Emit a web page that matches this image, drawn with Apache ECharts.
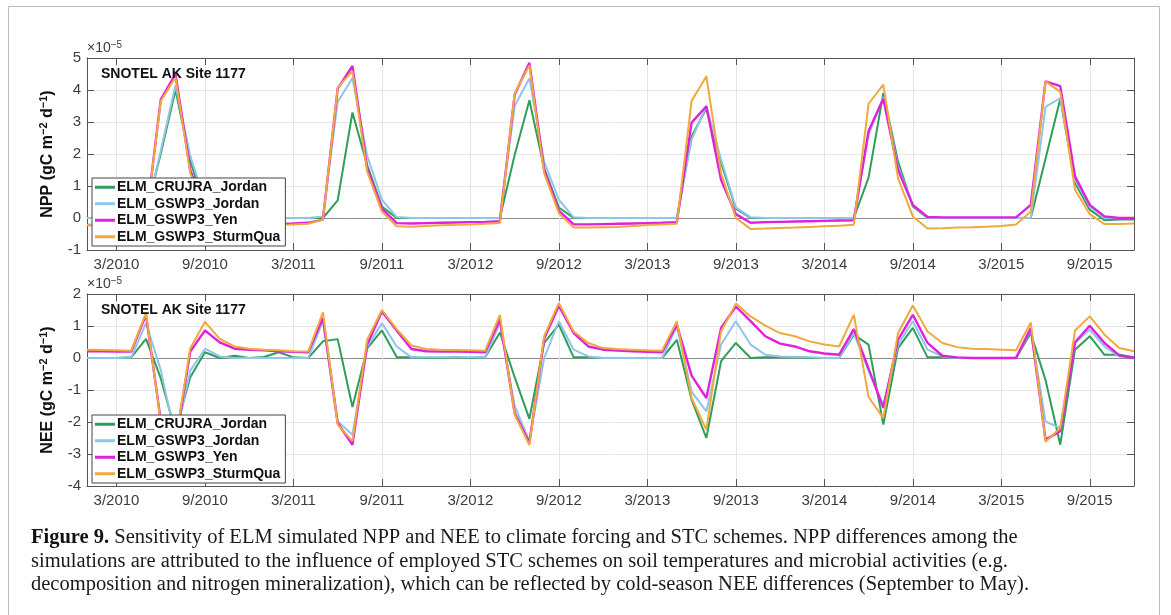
<!DOCTYPE html>
<html>
<head>
<meta charset="utf-8">
<script src="https://cdn.jsdelivr.net/npm/echarts@6/dist/echarts.min.js"></script>
<style>
  html, body { margin: 0; padding: 0; background: #fff; }
  #chart { width: 1171px; height: 615px; }
</style>
</head>
<body>
<div id="chart"></div>
<script>
// monthly categories Jan 2010 .. Dec 2015
const years = [2010, 2011, 2012, 2013, 2014, 2015];
const categories = [];
years.forEach(y => { for (let m = 1; m <= 12; m++) categories.push(m + '/' + y); });

const tickLabels = ['3/2010', '9/2010', '3/2011', '9/2011', '3/2012', '9/2012',
  '3/2013', '9/2013', '3/2014', '9/2014', '3/2015', '9/2015'];

const seriesNames = ['ELM_CRUJRA_Jordan', 'ELM_GSWP3_Jordan', 'ELM_GSWP3_Yen', 'ELM_GSWP3_SturmQua'];
const colors = ['#2f9e5a', '#8fc5e8', '#e020dc', '#f0a93e'];

// NPP, x1e-5 gC m-2 d-1
const nppCrujraJordan = [
  0, 0, 0, 0, 0.2, 2.0, 4.0, 1.8, 0.3, 0, 0, 0,
  0, 0, 0, 0, 0, 0.55, 3.3, 1.65, 0.36, 0, 0, 0,
  0, 0, 0, 0, 0, 1.97, 3.68, 1.55, 0.33, 0, 0, 0,
  0, 0, 0, 0, 0, 2.55, 3.42, 1.72, 0.29, 0, 0, 0,
  0, 0, 0, 0, 0, 1.26, 3.9, 1.76, 0.36, 0, 0, 0,
  0, 0, 0, 0, 0, 1.85, 3.73, 1.09, 0.26, -0.07, -0.05, -0.05
];
const nppGswp3Jordan = [
  0, 0, 0, 0, 0.1, 2.1, 4.15, 1.95, 0.5, 0.05, 0, 0,
  0, 0, 0, 0, 0.05, 3.63, 4.37, 1.95, 0.57, 0.03, 0, 0,
  0, 0, 0, 0, 0, 3.5, 4.37, 1.76, 0.57, 0.02, 0, 0,
  0, 0, 0, 0, 0, 2.45, 3.5, 1.83, 0.33, 0.02, 0, 0,
  0, 0, 0, 0, 0, 2.6, 3.78, 1.6, 0.4, 0, 0, 0,
  0, 0, 0, 0, 0, 3.47, 3.75, 1.2, 0.36, 0, 0, 0
];
const nppGswp3Yen = [
  -0.22, -0.22, -0.21, -0.2, -0.1, 3.7, 4.5, 1.5, 0.25, -0.2, -0.2, -0.19,
  -0.19, -0.18, -0.17, -0.15, -0.05, 4.04, 4.75, 1.55, 0.29, -0.16, -0.17, -0.16,
  -0.15, -0.14, -0.13, -0.12, -0.1, 3.85, 4.85, 1.5, 0.23, -0.2, -0.2, -0.19,
  -0.18, -0.17, -0.16, -0.15, -0.13, 2.98, 3.49, 1.19, 0.12, -0.15, -0.13, -0.12,
  -0.11, -0.1, -0.09, -0.08, -0.07, 2.72, 3.73, 1.5, 0.41, 0.03, 0.02, 0.02,
  0.02, 0.02, 0.02, 0.02, 0.41, 4.27, 4.12, 1.3, 0.41, 0.05, 0, 0
];
const nppGswp3SturmQua = [
  -0.22, -0.22, -0.22, -0.21, -0.1, 3.65, 4.4, 1.4, 0.15, -0.25, -0.25, -0.24,
  -0.22, -0.21, -0.2, -0.18, -0.05, 4.07, 4.6, 1.45, 0.2, -0.26, -0.27, -0.25,
  -0.23, -0.21, -0.2, -0.18, -0.16, 3.89, 4.77, 1.4, 0.15, -0.3, -0.3, -0.29,
  -0.28, -0.25, -0.22, -0.2, -0.18, 3.66, 4.43, 1.4, 0.0, -0.34, -0.33, -0.31,
  -0.3, -0.28, -0.26, -0.24, -0.21, 3.57, 4.17, 1.24, 0.05, -0.33, -0.32, -0.3,
  -0.29, -0.27, -0.25, -0.2, 0.2, 4.27, 3.94, 0.88, 0.12, -0.19, -0.19, -0.17
];

// NEE, x1e-5 gC m-2 d-1
const neeCrujraJordan = [
  0, 0, 0, 0.02, 0.6, -0.63, -2.3, -0.6, 0.18, 0, 0.07, 0,
  0.03, 0.18, 0.02, 0, 0.52, 0.59, -1.53, 0.3, 0.86, 0.03, 0.02, 0,
  0, 0.02, 0, 0.02, 0.8, -0.6, -1.9, 0.47, 1.04, 0.02, 0.02, 0,
  0, 0, 0, 0, 0.57, -1.3, -2.5, -0.1, 0.47, 0, 0.02, 0.02,
  0.03, 0, 0, 0, 0.73, 0.42, -2.08, 0.31, 0.94, 0.02, 0.02, 0,
  0, 0, 0, 0, 0.78, -0.69, -2.71, 0.26, 0.68, 0.1, 0.1, 0.02
];
const neeGswp3Jordan = [
  0, 0, 0, 0.02, 1.09, -0.37, -2.5, -0.4, 0.29, 0.05, 0, 0,
  0, 0, 0, 0, 1.15, -1.98, -2.4, 0.35, 1.09, 0.36, 0.02, 0.02,
  0.02, 0.02, 0.02, 0.02, 1.1, -1.5, -2.6, 0.0, 1.15, 0.26, 0.05, 0,
  0, 0, 0, 0, 0.99, -1.05, -1.67, 0.42, 1.15, 0.42, 0.1, 0.05,
  0.03, 0.02, 0, 0, 0.78, -0.4, -1.46, 0.42, 1.15, 0.26, 0.05, 0,
  0, 0, 0, 0, 0.89, -1.99, -2.19, 0.47, 0.89, 0.36, 0.05, 0
];
const neeGswp3Yen = [
  0.21, 0.21, 0.2, 0.2, 1.35, -1.95, -2.7, 0.2, 0.86, 0.49, 0.29, 0.26,
  0.24, 0.21, 0.19, 0.18, 1.25, -2.03, -2.71, 0.42, 1.45, 0.86, 0.28, 0.21,
  0.2, 0.2, 0.19, 0.18, 1.2, -1.72, -2.65, 0.6, 1.63, 0.78, 0.36, 0.26,
  0.23, 0.21, 0.19, 0.18, 1.04, -0.55, -1.25, 0.94, 1.61, 1.15, 0.68, 0.45,
  0.36, 0.21, 0.14, 0.1, 0.9, -0.33, -1.56, 0.57, 1.35, 0.47, 0.07, 0.02,
  0, 0, 0, 0, 0.94, -2.55, -2.29, 0.49, 1.01, 0.47, 0.08, 0
];
const neeGswp3SturmQua = [
  0.26, 0.25, 0.24, 0.23, 1.4, -2.0, -2.6, 0.3, 1.13, 0.6, 0.36, 0.29,
  0.26, 0.24, 0.21, 0.2, 1.43, -2.08, -2.6, 0.57, 1.5, 0.9, 0.39, 0.28,
  0.26, 0.25, 0.24, 0.23, 1.35, -1.77, -2.72, 0.68, 1.72, 0.83, 0.47, 0.31,
  0.28, 0.26, 0.24, 0.23, 1.15, -1.25, -2.24, 0.83, 1.7, 1.3, 1.01, 0.78,
  0.68, 0.52, 0.42, 0.36, 1.35, -1.22, -1.88, 0.78, 1.64, 0.83, 0.47, 0.34,
  0.29, 0.28, 0.26, 0.24, 1.11, -2.62, -2.19, 0.86, 1.3, 0.73, 0.31, 0.21
];

const nppData = [nppCrujraJordan, nppGswp3Jordan, nppGswp3Yen, nppGswp3SturmQua];
const neeData = [neeCrujraJordan, neeGswp3Jordan, neeGswp3Yen, neeGswp3SturmQua];

const FONT = '"Liberation Sans", Arial, sans-serif';
const axisColor = '#555';
const gridColor = '#e6e6e6';
const zeroColor = '#8c8c8c';

const isTick = (idx) => tickLabels.indexOf(categories[idx]) !== -1;

function xAxisFor(gridIndex, pos) {
  const bottom = pos === 'bottom';
  return {
    type: 'category',
    gridIndex: gridIndex,
    position: pos,
    data: categories,
    boundaryGap: false,
    axisLine: { onZero: false, lineStyle: { color: axisColor, width: 1 } },
    axisTick: { show: true, inside: true, length: 7, interval: isTick, lineStyle: { color: axisColor } },
    axisLabel: bottom ? {
      show: true, interval: isTick, color: '#3c3c3c', fontSize: 15, fontFamily: FONT, margin: 7
    } : { show: false },
    splitLine: { show: bottom, interval: isTick, lineStyle: { color: gridColor, width: 1 } }
  };
}

function yAxisFor(gridIndex, pos, min, max, name) {
  const left = pos === 'left';
  const lineColors = [];
  for (let v = min; v <= max; v++) lineColors.push(v === 0 ? zeroColor : gridColor);
  return {
    type: 'value',
    gridIndex: gridIndex,
    position: pos,
    min: min,
    max: max,
    interval: 1,
    name: left ? name : '',
    nameLocation: 'middle',
    nameGap: 29,
    nameRotate: 90,
    nameTextStyle: {
      color: '#111', fontSize: 16, fontWeight: 'bold', fontFamily: FONT,
      rich: { s: { fontSize: 11, fontWeight: 'bold', fontFamily: FONT, color: '#111', verticalAlign: 'top', lineHeight: 20 } }
    },
    axisLine: { show: true, lineStyle: { color: axisColor, width: 1 } },
    axisTick: { show: true, inside: true, length: 7, lineStyle: { color: axisColor } },
    axisLabel: left ? { show: true, color: '#3c3c3c', fontSize: 15, fontFamily: FONT, margin: 6 } : { show: false },
    splitLine: { show: left, lineStyle: { color: lineColors, width: 1 } }
  };
}

const series = [];
[nppData, neeData].forEach((panel, p) => {
  panel.forEach((values, i) => {
    series.push({
      name: seriesNames[i],
      type: 'line',
      xAxisIndex: p * 2,
      yAxisIndex: p * 2,
      data: values,
      symbol: 'none',
      showSymbol: false,
      smooth: false,
      lineStyle: { color: colors[i], width: i === 2 ? 2.4 : 2 },
      itemStyle: { color: colors[i] },
      emphasis: { disabled: true },
      z: 3 + i
    });
  });
});

function legendFor(top) {
  return {
    data: seriesNames,
    orient: 'vertical',
    left: 92,
    top: top,
    icon: 'rect',
    itemWidth: 20,
    itemHeight: 3,
    itemGap: 0,
    padding: [1, 5, 1, 3],
    backgroundColor: '#fff',
    borderColor: '#444',
    borderWidth: 1,
    selectedMode: false,
    textStyle: { color: '#111', fontSize: 14, fontWeight: 'bold', fontFamily: FONT, lineHeight: 16.5, padding: [0, 0, 0, -3] },
    z: 10
  };
}

const caption = [
  '{b|Figure 9.} Sensitivity of ELM simulated NPP and NEE to climate forcing and STC schemes. NPP differences among the',
  'simulations are attributed to the influence of employed STC schemes on soil temperatures and microbial activities (e.g.',
  'decomposition and nitrogen mineralization), which can be reflected by cold-season NEE differences (September to May).'
];

const sciRich = { s: { fontSize: 10, fontFamily: FONT, fill: '#3c3c3c', verticalAlign: 'top', lineHeight: 16 } };
const graphic = [
  { type: 'rect', shape: { x: 8.5, y: 6.5, width: 1151, height: 640 }, style: { fill: 'none', stroke: '#bdbdbd', lineWidth: 1 }, silent: true, z: 0 },
  { type: 'text', x: 101, y: 67, style: { text: 'SNOTEL AK Site 1177', font: 'bold 14px "Liberation Sans", Arial', fill: '#111' }, z: 20 },
  { type: 'text', x: 101, y: 303, style: { text: 'SNOTEL AK Site 1177', font: 'bold 14px "Liberation Sans", Arial', fill: '#111' }, z: 20 },
  { type: 'text', x: 87, y: 40, style: { text: '\u00d710{s|\u22125}', font: '14px "Liberation Sans", Arial', fill: '#3c3c3c', rich: sciRich }, z: 20 },
  { type: 'text', x: 87, y: 276, style: { text: '\u00d710{s|\u22125}', font: '14px "Liberation Sans", Arial', fill: '#3c3c3c', rich: sciRich }, z: 20 }
];
caption.forEach((line, k) => {
  graphic.push({
    type: 'text', x: 31, y: 538 + k * 23.5,
    style: {
      text: line,
      font: '20.5px "Liberation Serif", "DejaVu Serif", serif',
      fill: '#1a1a1a',
      verticalAlign: 'middle',
      rich: { b: { fontWeight: 'bold', fontSize: 20.5, fontFamily: '"Liberation Serif", serif', fill: '#111' } }
    },
    z: 20
  });
});

const chart = echarts.init(document.getElementById('chart'));
chart.setOption({
  animation: false,
  backgroundColor: '#fff',
  grid: [
    { left: 87, top: 58, width: 1047, height: 192 },
    { left: 87, top: 294, width: 1047, height: 192 }
  ],
  xAxis: [xAxisFor(0, 'bottom'), xAxisFor(0, 'top'), xAxisFor(1, 'bottom'), xAxisFor(1, 'top')],
  yAxis: [
    yAxisFor(0, 'left', -1, 5, 'NPP (gC m{s|\u22122} d{s|\u22121})'),
    yAxisFor(0, 'right', -1, 5, ''),
    yAxisFor(1, 'left', -4, 2, 'NEE (gC m{s|\u22122} d{s|\u22121})'),
    yAxisFor(1, 'right', -4, 2, '')
  ],
  legend: [legendFor(178), legendFor(415)],
  series: series,
  graphic: graphic
});
</script>
</body>
</html>
